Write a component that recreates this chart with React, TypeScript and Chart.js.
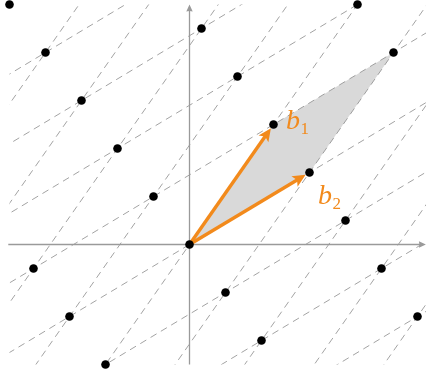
import React, { useEffect, useRef } from 'react';
import { Chart, registerables } from 'chart.js';

Chart.register(...registerables);

// Basis vectors of the lattice
const basis1 = [1.4, 2];
const basis2 = [2, 1.2];

// Lattice points visible in the view
const latticeX = [0, 1.4, 2, 3.4, 2.8, 0.8, 0.2, 0.6, 1.2, 2.6, 3.2, 3.8, -0.6, -1.2, -1.8, -2.4, -3, -2.6, -2, -1.4];
const latticeY = [0, 2, 1.2, 3.2, 4, 2.8, 3.6, -0.8, -1.6, 0.4, -0.4, -1.2, 0.8, 1.6, 2.4, 3.2, 4, -0.4, -1.2, -2];

// Fundamental parallelogram
const cellX = [0, 2, 3.4, 1.4, 0];
const cellY = [0, 1.2, 3.2, 2, 0];

// Vector labels
const vectorNames = ['b', 'b'];
const vectorSubs = ['1', '2'];

// Clip window for lattice lines, axis extents
const viewX = [-3, 4];
const viewY = [-2, 4];
const axisX = [-3.02, 3.94];
const axisY = [-2.0, 4.0];

const W = 426;
const H = 376;
const UNIT = 60;
const ORIGIN_PX = [189.5, 244.5];

const ORANGE = '#f28a1c';
const AXIS = '#9a9a9a';

function drawHead(ctx: CanvasRenderingContext2D, x: number, y: number, ux: number, uy: number, len: number, half: number, inset: number) {
  const nx = -uy, ny = ux;
  ctx.beginPath();
  ctx.moveTo(x, y);
  ctx.lineTo(x - ux * len + nx * half, y - uy * len + ny * half);
  ctx.lineTo(x - ux * (len - inset), y - uy * (len - inset));
  ctx.lineTo(x - ux * len - nx * half, y - uy * len - ny * half);
  ctx.closePath();
  ctx.fill();
}

const latticePlugin = {
  id: 'latticeDecor',
  afterDatasetDraw(chart: any, args: any) {
    if (args.index !== 0) return;
    const ctx: CanvasRenderingContext2D = chart.ctx;
    const xs = chart.scales.x, ys = chart.scales.y;
    const px = (v: number) => xs.getPixelForValue(v);
    const py = (v: number) => ys.getPixelForValue(v);

    // dashed lattice lines
    ctx.save();
    ctx.beginPath();
    ctx.rect(px(viewX[0]), py(viewY[1]), px(viewX[1]) - px(viewX[0]), py(viewY[0]) - py(viewY[1]));
    ctx.clip();
    ctx.strokeStyle = '#8c8c8c';
    ctx.lineWidth = 0.8;
    ctx.setLineDash([7, 5]);
    const fams: number[][][] = [[basis1, basis2], [basis2, basis1]];
    for (let k = -8; k <= 8; k++) {
      for (const [o, d] of fams) {
        const ox = k * o[0], oy = k * o[1];
        ctx.beginPath();
        ctx.moveTo(px(ox - 10 * d[0]), py(oy - 10 * d[1]));
        ctx.lineTo(px(ox + 10 * d[0]), py(oy + 10 * d[1]));
        ctx.stroke();
      }
    }
    ctx.restore();

    // axes
    ctx.save();
    ctx.strokeStyle = AXIS;
    ctx.fillStyle = AXIS;
    ctx.lineWidth = 1.3;
    ctx.beginPath();
    ctx.moveTo(px(axisX[0]), py(0));
    ctx.lineTo(px(axisX[1]) - 5, py(0));
    ctx.moveTo(px(0), py(axisY[0]));
    ctx.lineTo(px(0), py(axisY[1]) + 5);
    ctx.stroke();
    drawHead(ctx, px(axisX[1]), py(0), 1, 0, 7, 3.2, 0.5);
    drawHead(ctx, px(0), py(axisY[1]), 0, -1, 7, 3.2, 0.5);
    ctx.restore();

    // orange vectors
    ctx.save();
    ctx.strokeStyle = ORANGE;
    ctx.fillStyle = ORANGE;
    ctx.lineWidth = 3.4;
    ctx.lineCap = 'butt';
    for (const b of [basis1, basis2]) {
      const x0 = px(0), y0 = py(0);
      const x1 = px(b[0]), y1 = py(b[1]);
      const dx = x1 - x0, dy = y1 - y0;
      const L = Math.hypot(dx, dy);
      const ux = dx / L, uy = dy / L;
      const tx = x1 - ux * 4.5, ty = y1 - uy * 4.5;
      ctx.beginPath();
      ctx.moveTo(x0, y0);
      ctx.lineTo(tx - ux * 9, ty - uy * 9);
      ctx.stroke();
      drawHead(ctx, tx, ty, ux, uy, 13, 6, 3);
    }
    ctx.restore();
  },
  afterDatasetsDraw(chart: any) {
    const ctx: CanvasRenderingContext2D = chart.ctx;
    const xs = chart.scales.x, ys = chart.scales.y;
    const offsets = [[12.5, 4.5], [8.5, 31.5]];
    const bases = [basis1, basis2];
    ctx.save();
    ctx.fillStyle = ORANGE;
    ctx.textBaseline = 'alphabetic';
    ctx.textAlign = 'left';
    for (let i = 0; i < 2; i++) {
      const x = xs.getPixelForValue(bases[i][0]) + offsets[i][0];
      const y = ys.getPixelForValue(bases[i][1]) + offsets[i][1];
      ctx.font = 'italic 28px "Liberation Serif"';
      ctx.fillText(vectorNames[i], x, y);
      const w = ctx.measureText(vectorNames[i]).width;
      ctx.font = '17px "Liberation Serif"';
      ctx.fillText(vectorSubs[i], x + w + 0.5, y + 5);
    }
    ctx.restore();
  },
};

export default function App() {
  const ref = useRef<HTMLCanvasElement | null>(null);
  useEffect(() => {
    document.body.style.margin = '0';
    const canvas = ref.current!;
    const xMin = -ORIGIN_PX[0] / UNIT;
    const xMax = (W - ORIGIN_PX[0]) / UNIT;
    const yMax = ORIGIN_PX[1] / UNIT;
    const yMin = -(H - ORIGIN_PX[1]) / UNIT;
    const chart = new Chart(canvas, {
      type: 'scatter',
      data: {
        datasets: [
          {
            data: cellX.map((x, i) => ({ x, y: cellY[i] })),
            showLine: true,
            fill: 'shape',
            backgroundColor: '#d9d9d9',
            borderColor: 'rgba(0,0,0,0)',
            borderWidth: 0,
            pointRadius: 0,
            tension: 0,
            order: 2,
          } as any,
          {
            data: latticeX.map((x, i) => ({ x, y: latticeY[i] })),
            showLine: false,
            backgroundColor: '#000',
            borderColor: '#000',
            borderWidth: 0,
            pointRadius: 4.3,
            order: 1,
          },
        ],
      },
      options: {
        animation: false,
        responsive: false,
        maintainAspectRatio: false,
        layout: { padding: 0, autoPadding: false },
        plugins: { legend: { display: false }, tooltip: { enabled: false } },
        events: [],
        scales: {
          x: { type: 'linear', min: xMin, max: xMax, display: false },
          y: { type: 'linear', min: yMin, max: yMax, display: false },
        },
      },
      plugins: [latticePlugin],
    });
    return () => chart.destroy();
  }, []);
  return (
    <div style={{ width: W, height: H }}>
      <canvas ref={ref} width={W} height={H} style={{ display: 'block', width: W, height: H }} />
    </div>
  );
}
